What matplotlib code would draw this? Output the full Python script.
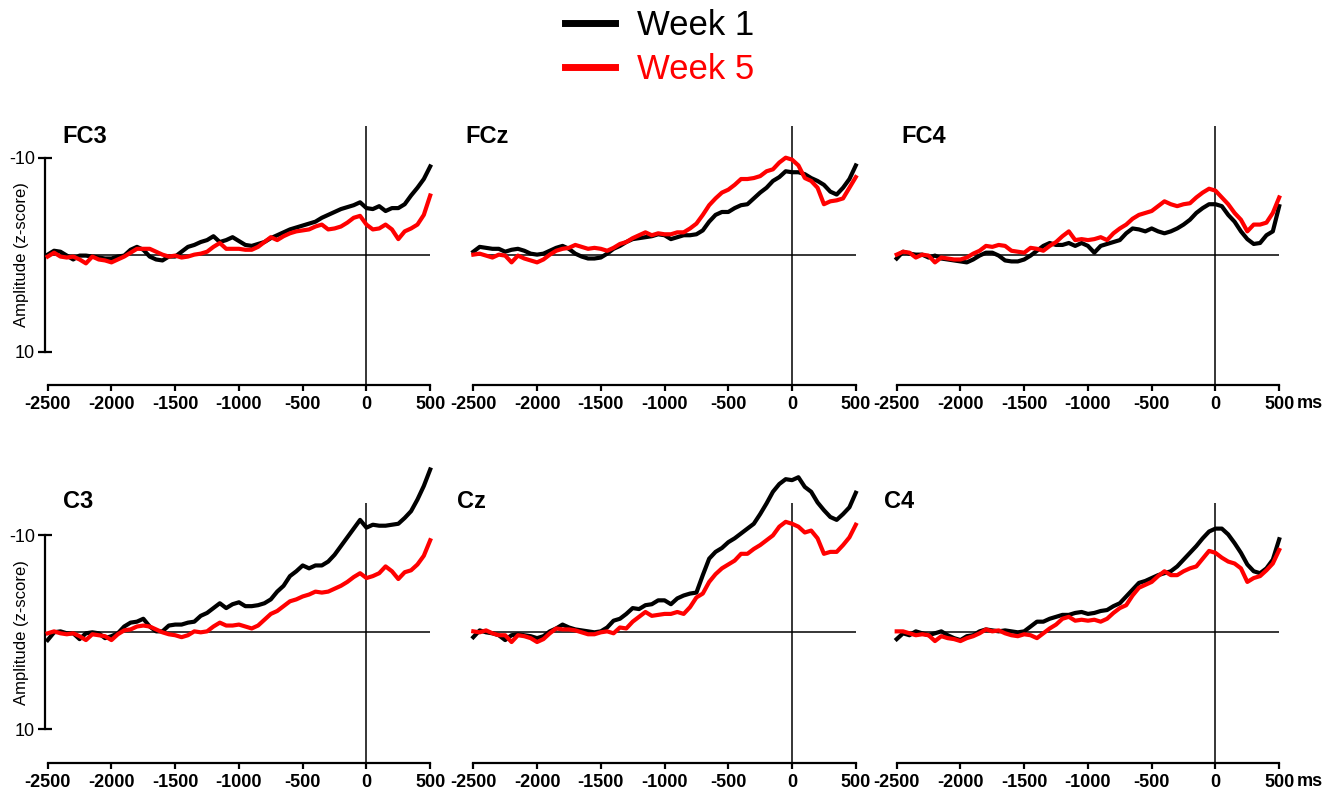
import numpy as np
import matplotlib
matplotlib.use('Agg')
import matplotlib.pyplot as plt

plt.rcParams['font.family'] = ['Liberation Sans', 'DejaVu Sans']

# time axis (ms), values read every 50 ms
time = np.arange(-2500, 501, 50)

fc3_w1 = [0.0, -0.4, -0.3, 0.1, 0.5, 0.1, 0.1, 0.2, 0.3, 0.4,
          0.4, 0.2, 0.1, -0.5, -0.8, -0.5, 0.2, 0.5, 0.6, 0.2,
          0.2, -0.3, -0.8, -1.0, -1.3, -1.5, -1.9, -1.3, -1.5, -1.8,
          -1.4, -1.0, -0.9, -1.1, -1.3, -1.7, -2.0, -2.3, -2.6, -2.8,
          -3.0, -3.2, -3.4, -3.8, -4.1, -4.4, -4.7, -4.9, -5.1, -5.4,
          -4.8, -4.7, -5.0, -4.5, -4.8, -4.8, -5.2, -6.1, -6.9, -7.8,
          -9.1]
fc3_w5 = [0.2, -0.2, 0.2, 0.3, 0.2, 0.5, 0.9, 0.2, 0.5, 0.6,
          0.8, 0.5, 0.2, -0.2, -0.6, -0.6, -0.6, -0.3, 0.0, 0.2,
          0.1, 0.3, 0.2, 0.0, -0.1, -0.3, -0.8, -1.2, -0.6, -0.6,
          -0.6, -0.5, -0.5, -0.8, -1.3, -1.8, -1.5, -1.9, -2.2, -2.4,
          -2.5, -2.6, -2.9, -3.1, -2.6, -2.7, -2.9, -3.3, -3.8, -4.0,
          -3.1, -2.6, -2.7, -3.1, -2.6, -1.6, -2.4, -2.7, -3.1, -4.1,
          -6.1]
fcz_w1 = [-0.3, -0.8, -0.7, -0.6, -0.6, -0.3, -0.5, -0.6, -0.4, -0.1,
          0.0, -0.1, -0.4, -0.7, -0.9, -0.6, -0.1, 0.2, 0.4, 0.4,
          0.3, -0.1, -0.6, -0.9, -1.3, -1.6, -1.7, -1.8, -1.9, -2.1,
          -2.0, -1.6, -1.8, -2.0, -2.0, -2.1, -2.5, -3.4, -4.1, -4.4,
          -4.4, -4.8, -5.1, -5.2, -5.8, -6.4, -6.9, -7.6, -8.0, -8.6,
          -8.5, -8.5, -8.3, -7.9, -7.6, -7.2, -6.5, -6.2, -6.9, -7.8,
          -9.2]
fcz_w5 = [0.0, -0.1, 0.1, 0.3, 0.0, 0.1, 0.8, 0.1, 0.4, 0.6,
          0.8, 0.5, 0.0, -0.4, -0.6, -0.7, -1.0, -0.8, -0.6, -0.7,
          -0.6, -0.4, -0.7, -1.1, -1.3, -1.7, -2.0, -2.3, -2.0, -2.2,
          -2.1, -2.1, -2.3, -2.3, -2.7, -3.2, -4.1, -5.1, -5.8, -6.4,
          -6.7, -7.2, -7.8, -7.8, -7.9, -8.1, -8.6, -8.8, -9.5, -10.0,
          -9.8, -9.2, -7.9, -7.6, -6.9, -5.2, -5.5, -5.6, -5.8, -6.9,
          -8.0]
fc4_w1 = [0.4, -0.3, -0.1, 0.0, 0.0, 0.3, 0.1, 0.4, 0.5, 0.6,
          0.7, 0.8, 0.5, 0.1, -0.2, -0.2, 0.1, 0.6, 0.7, 0.7,
          0.5, 0.1, -0.4, -0.9, -1.2, -1.0, -1.0, -1.2, -0.9, -1.2,
          -0.9, -0.2, -0.9, -1.1, -1.3, -1.5, -2.2, -2.7, -2.6, -2.4,
          -2.7, -2.4, -2.2, -2.4, -2.7, -3.1, -3.6, -4.3, -4.8, -5.2,
          -5.2, -5.0, -4.1, -3.4, -2.4, -1.6, -1.1, -1.2, -2.0, -2.4,
          -5.0]
fc4_w5 = [0.0, -0.3, -0.2, 0.3, 0.0, 0.1, 0.8, 0.3, 0.4, 0.5,
          0.5, 0.3, -0.1, -0.4, -0.9, -0.8, -1.0, -0.9, -0.4, -0.3,
          -0.2, -0.7, -0.6, -0.4, -0.9, -1.3, -1.9, -2.4, -1.5, -1.6,
          -1.5, -1.6, -1.8, -1.5, -2.2, -2.7, -3.1, -3.7, -4.1, -4.3,
          -4.5, -5.0, -5.5, -5.2, -5.0, -5.2, -5.3, -5.9, -6.4, -6.8,
          -6.6, -5.9, -5.2, -4.3, -3.6, -2.4, -3.1, -3.1, -3.3, -4.3,
          -5.9]
c3_w1 = [0.8, 0.0, -0.1, 0.1, 0.1, 0.7, 0.1, 0.0, 0.1, 0.6,
         0.4, 0.1, -0.6, -1.0, -1.1, -1.4, -0.6, -0.1, -0.1, -0.7,
         -0.8, -0.8, -1.0, -1.1, -1.7, -2.0, -2.5, -3.0, -2.5, -2.9,
         -3.1, -2.7, -2.7, -2.8, -3.0, -3.4, -4.2, -4.8, -5.8, -6.3,
         -6.9, -6.6, -6.9, -6.9, -7.3, -8.0, -8.9, -9.8, -10.7, -11.6,
         -10.8, -11.1, -11.0, -11.0, -11.1, -11.2, -11.8, -12.5, -13.7, -15.1,
         -16.8]
c3_w5 = [0.1, -0.1, 0.1, 0.2, 0.1, 0.4, 0.8, 0.2, 0.3, 0.4,
         0.8, 0.2, -0.2, -0.3, -0.6, -0.7, -0.6, -0.3, 0.0, 0.2,
         0.3, 0.5, 0.3, -0.1, 0.0, -0.1, -0.6, -1.0, -0.7, -0.7,
         -0.8, -0.6, -0.4, -0.7, -1.3, -1.9, -2.2, -2.7, -3.2, -3.4,
         -3.7, -3.9, -4.2, -4.1, -4.2, -4.5, -4.8, -5.2, -5.7, -6.1,
         -5.6, -5.8, -6.1, -6.8, -6.3, -5.5, -6.2, -6.4, -7.0, -7.9,
         -9.5]
cz_w1 = [0.5, -0.2, 0.0, 0.1, 0.3, 0.8, 0.3, 0.2, 0.3, 0.4,
         0.6, 0.4, -0.1, -0.4, -0.8, -0.5, -0.3, -0.2, -0.1, 0.0,
         -0.1, -0.5, -1.2, -1.4, -1.9, -2.5, -2.4, -2.8, -2.9, -3.3,
         -3.3, -2.9, -3.5, -3.8, -4.0, -4.1, -5.9, -7.6, -8.3, -8.7,
         -9.3, -9.7, -10.2, -10.7, -11.2, -12.2, -13.3, -14.5, -15.3, -15.8,
         -15.7, -16.0, -15.0, -14.5, -13.4, -12.6, -11.9, -11.6, -12.2, -12.9,
         -14.4]
cz_w5 = [-0.1, 0.0, -0.2, 0.1, 0.3, 0.3, 1.0, 0.3, 0.4, 0.6,
         1.0, 0.7, 0.1, -0.4, -0.3, -0.3, -0.2, 0.0, 0.2, 0.2,
         0.0, -0.1, 0.1, -0.5, -0.4, -1.1, -1.6, -2.1, -1.7, -1.8,
         -1.9, -1.9, -2.1, -1.9, -2.6, -3.6, -4.0, -5.2, -6.0, -6.6,
         -7.0, -7.4, -8.1, -8.1, -8.6, -9.0, -9.5, -10.0, -10.9, -11.4,
         -11.2, -10.9, -10.3, -10.5, -9.7, -8.1, -8.3, -8.3, -9.0, -9.8,
         -11.1]
c4_w1 = [0.7, 0.1, 0.3, -0.1, 0.1, 0.3, 0.1, -0.1, 0.3, 0.6,
         0.8, 0.4, 0.3, -0.1, -0.3, -0.2, -0.1, -0.2, -0.1, 0.0,
         -0.1, -0.6, -1.1, -1.1, -1.4, -1.6, -1.8, -1.8, -2.0, -2.1,
         -1.9, -2.0, -2.2, -2.3, -2.7, -3.0, -3.7, -4.4, -5.1, -5.3,
         -5.6, -5.9, -6.1, -6.3, -6.8, -7.5, -8.2, -8.9, -9.7, -10.4,
         -10.7, -10.7, -10.1, -9.2, -8.2, -7.0, -6.3, -6.1, -6.6, -7.5,
         -9.6]
c4_w5 = [-0.1, -0.1, 0.1, 0.3, 0.2, 0.3, 0.9, 0.4, 0.6, 0.7,
         0.9, 0.6, 0.4, 0.1, -0.3, -0.1, -0.2, 0.1, 0.3, 0.4,
         0.2, 0.3, 0.6, 0.1, -0.4, -0.8, -1.4, -1.6, -1.2, -1.3,
         -1.2, -1.3, -1.1, -1.4, -2.0, -2.5, -2.8, -3.8, -4.6, -4.9,
         -5.2, -5.8, -6.3, -5.9, -5.9, -6.3, -6.6, -6.8, -7.6, -8.4,
         -8.2, -7.7, -7.3, -7.1, -6.6, -5.2, -5.6, -5.8, -6.4, -7.1,
         -8.5]

panels = [('FC3', fc3_w1, fc3_w5), ('FCz', fcz_w1, fcz_w5), ('FC4', fc4_w1, fc4_w5),
          ('C3', c3_w1, c3_w5), ('Cz', cz_w1, cz_w5), ('C4', c4_w1, c4_w5)]
xticks = list(range(-2500, 501, 500))

W, H = 1330, 793
fig = plt.figure(figsize=(13.3, 7.93), dpi=100)

lefts = [47.7, 473.3, 896.7]   # pixel x of -2500
axis_y = [385, 762.7]          # pixel y of the x axis
zero_y = [254.3, 632.7]
title_pos = [(62, 143), (465, 143), (901, 143), (63, 508), (457, 508), (884, 508)]
tick_font = ['Liberation Sans Narrow', 'Liberation Sans', 'DejaVu Sans']

axes = []
for i, (name, w1, w5) in enumerate(panels):
    r, c = divmod(i, 3)
    ax = fig.add_axes([lefts[c] / W, 1 - axis_y[r] / H, 382.5 / W, 300 / H])
    ax.patch.set_alpha(0)
    ax.set_xlim(-2500, 500)
    ax.set_ylim(13.45, -17.5)

    ax.axhline(0, color='black', lw=1.1, zorder=1)
    ax.vlines(0, -13.3, 13.45, colors='black', lw=1.1, zorder=1)
    ax.plot(time, w1, color='black', lw=3, label='Week 1', clip_on=False, zorder=3)
    ax.plot(time, w5, color='#ff0000', lw=3, label='Week 5', clip_on=False, zorder=4)

    for s in ['top', 'right']:
        ax.spines[s].set_visible(False)
    ax.spines['bottom'].set_linewidth(1.6)
    ax.spines['bottom'].set_bounds(-2500, 500)

    ax.set_xticks(xticks, labels=[str(t) for t in xticks], fontsize=13,
                  fontweight='bold', family=tick_font)
    ax.tick_params(axis='x', direction='out', length=4, width=1.6, pad=4)

    if c == 0:
        ax.spines['left'].set_position(('outward', 2))
        ax.spines['left'].set_linewidth(1.6)
        ax.spines['left'].set_bounds(-10, 10)
        ax.set_yticks([-10, 10], labels=['-10', '10'], fontsize=13)
        ax.tick_params(axis='y', direction='inout', length=10, width=1.6, pad=2)
        fig.text(22 / W, 1 - zero_y[r] / H, 'Amplitude (z-score)', rotation=90,
                 ha='center', va='center', fontsize=12)
    else:
        ax.spines['left'].set_visible(False)
        ax.set_yticks([])

    if c == 2:
        ax.annotate('ms', xy=(500, 0), xycoords=('data', 'axes fraction'),
                    xytext=(12.5, -16.5), textcoords='offset points', ha='left',
                    va='baseline', fontsize=13, fontweight='bold', family=tick_font)

    tx, ty = title_pos[i]
    fig.text(tx / W, 1 - ty / H, name, fontsize=17, fontweight='bold', va='baseline')
    axes.append(ax)

handles, labels = axes[0].get_legend_handles_labels()
leg = fig.legend(handles, labels, loc='upper left', bbox_to_anchor=(565 / W, 1 - 9 / H),
                 frameon=False, fontsize=25, labelcolor='linecolor', handlelength=1.45,
                 handletextpad=0.63, labelspacing=0.33, borderpad=0, borderaxespad=0)
for line in leg.get_lines():
    line.set_linewidth(5)

fig.savefig('out.png', dpi=100)
